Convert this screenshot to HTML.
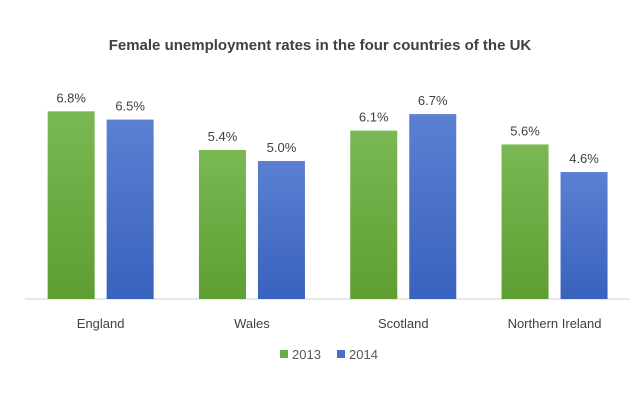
<!DOCTYPE html>
<html><head><meta charset="utf-8"><style>
body{margin:0;background:#fff;}
svg{display:block;font-family:"Liberation Sans",sans-serif;}
</style></head><body>
<svg id="c" width="640" height="409">
<defs>
<linearGradient id="g" x1="0" y1="0" x2="0" y2="1"><stop offset="0" stop-color="#7ab853"/><stop offset="1" stop-color="#5e9e32"/></linearGradient>
<linearGradient id="b" x1="0" y1="0" x2="0" y2="1"><stop offset="0" stop-color="#5b80d2"/><stop offset="1" stop-color="#3862bd"/></linearGradient>
</defs>
<text x="320" y="50" text-anchor="middle" font-size="15" font-weight="bold" fill="#404040">Female unemployment rates in the four countries of the UK</text>
<line x1="25" y1="299" x2="630" y2="299" stroke="#d0d0d0" stroke-width="1"/>
<rect x="280" y="350" width="8" height="8" fill="#6aab44"/>
<text x="292" y="359" font-size="13" fill="#595959">2013</text>
<rect x="337" y="350" width="8" height="8" fill="#4672c8"/>
<text x="349" y="359" font-size="13" fill="#595959">2014</text>
</svg>
<script>
const categories=["England","Wales","Scotland","Northern Ireland"];
const values2013=[6.8,5.4,6.1,5.6];
const values2014=[6.5,5.0,6.7,4.6];
const svg=document.getElementById('c');
const NS='http://www.w3.org/2000/svg';
const x0=25,band=151.3,base=299,unit=27.6,bw=47;
function y(v){return base-v*unit;}
function cx(i){return x0+band*(i+0.5);}
function mk(t,a){const e=document.createElementNS(NS,t);for(const k in a)e.setAttribute(k,a[k]);svg.appendChild(e);return e;}
categories.forEach((c,i)=>{
  [[values2013,-53,'url(#g)','2013'],[values2014,6,'url(#b)','2014']].forEach(([arr,off,fill,yr])=>{
    const v=arr[i];const x=cx(i)+off;
    const r=mk('rect',{x:x,y:y(v),width:bw,height:base-y(v),fill:fill});
    
    
    const t=mk('text',{x:x+bw/2,y:y(v)-9,'text-anchor':'middle','font-size':'13',fill:'#404040'});
    t.textContent=v.toFixed(1)+'%';
    
    
  });
  const l=mk('text',{x:cx(i),y:328,'text-anchor':'middle','font-size':'13',fill:'#404040'});
  l.textContent=c;
  
  
});
</script>
</body></html>
